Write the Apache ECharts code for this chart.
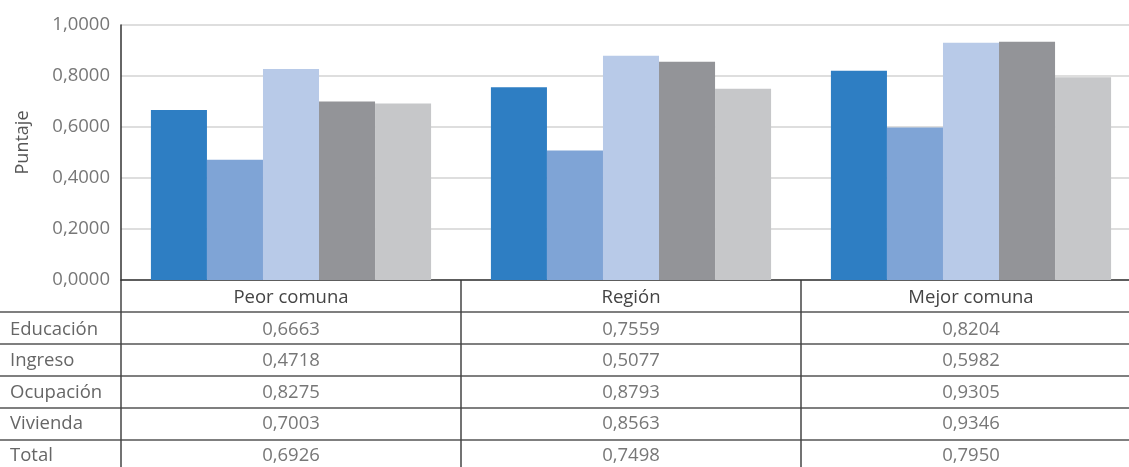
<!DOCTYPE html>
<html>
<head>
<meta charset="utf-8">
<script src="https://cdn.jsdelivr.net/npm/echarts@6/dist/echarts.min.js"></script>
<style>
  html, body { margin: 0; padding: 0; background: #fff; }
  #chart { width: 1129px; height: 467px; }
</style>
</head>
<body>
<div id="chart"></div>
<script>
const categories = ["Peor comuna", "Región", "Mejor comuna"]
const seriesNames = ["Educación", "Ingreso", "Ocupación", "Vivienda", "Total"]
const educacion = [0.6663, 0.7559, 0.8204]
const ingreso = [0.4718, 0.5077, 0.5982]
const ocupacion = [0.8275, 0.8793, 0.9305]
const vivienda = [0.7003, 0.8563, 0.9346]
const total = [0.6926, 0.7498, 0.7950]
const yTickLabels = ["0,0000", "0,2000", "0,4000", "0,6000", "0,8000", "1,0000"]

const seriesData = [educacion, ingreso, ocupacion, vivienda, total]
const colors = ["#2e7ec3", "#7fa4d6", "#b8cae8", "#939498", "#c6c7c9"]
const font = "'Open Sans', sans-serif"
const fs = 18.5

const fmt = (v) => v.toFixed(4).replace(".", ",")

const chart = echarts.init(document.getElementById("chart"), null, { renderer: "canvas" })

const option = {
  animation: false,
  color: colors,
  textStyle: { fontFamily: font },
  grid: { left: 121, top: 25, width: 1020, height: 255, outerBoundsMode: "none", containLabel: false },
  xAxis: {
    type: "category",
    data: categories,
    axisLine: { lineStyle: { color: "#333", width: 1.5 } },
    axisTick: { show: false },
    axisLabel: { margin: 8, fontSize: fs, color: "#444", fontFamily: font }
  },
  yAxis: {
    type: "value",
    min: 0,
    max: 1,
    interval: 0.2,
    name: "Puntaje",
    nameLocation: "middle",
    nameRotate: 90,
    nameGap: 89,
    nameTextStyle: { fontSize: 18, color: "#555", fontFamily: font, padding: [0, 0, 0, 20] },
    axisLine: { show: true, lineStyle: { color: "#333", width: 1.5 } },
    axisTick: { show: false },
    splitLine: { lineStyle: { color: "#d3d3d3", width: 1.5 } },
    axisLabel: {
      margin: 11,
      fontSize: fs,
      color: "#777",
      fontFamily: font,
      formatter: (v) => yTickLabels[Math.round(v / 0.2)]
    }
  },
  series: seriesNames.map((name, i) => ({
    name: name,
    type: "bar",
    data: seriesData[i],
    barGap: 0,
    barCategoryGap: "17.6%"
  }))
}

chart.setOption(option)

/* data table under the plot */
const rowY = [330, 361, 393, 424, 456]
const hLines = [312, 344, 376, 408, 440]
const graphics = []
hLines.forEach((y) => {
  graphics.push({
    type: "line",
    shape: { x1: 0, y1: y, x2: 1129, y2: y },
    style: { stroke: "#555", lineWidth: 1.5 }
  })
})
// vertical separators: axis line extension and category boundaries
const catW = chart.convertToPixel({ xAxisIndex: 0 }, categories[1]) - chart.convertToPixel({ xAxisIndex: 0 }, categories[0])
categories.forEach((c) => {
  const x = chart.convertToPixel({ xAxisIndex: 0 }, c) - catW / 2
  graphics.push({
    type: "line",
    shape: { x1: x, y1: 280, x2: x, y2: 467 },
    style: { stroke: "#444", lineWidth: 1.5 }
  })
})
seriesNames.forEach((name, i) => {
  graphics.push({
    type: "text",
    x: 10,
    y: rowY[i],
    style: { text: name, fontSize: fs, fontFamily: font, fill: "#666", verticalAlign: "middle" }
  })
  categories.forEach((c, j) => {
    graphics.push({
      type: "text",
      x: chart.convertToPixel({ xAxisIndex: 0 }, c),
      y: rowY[i],
      style: {
        text: fmt(seriesData[i][j]),
        fontSize: fs,
        fontFamily: font,
        fill: "#777",
        align: "center",
        verticalAlign: "middle"
      }
    })
  })
})
chart.setOption({ graphic: graphics })
</script>
</body>
</html>
